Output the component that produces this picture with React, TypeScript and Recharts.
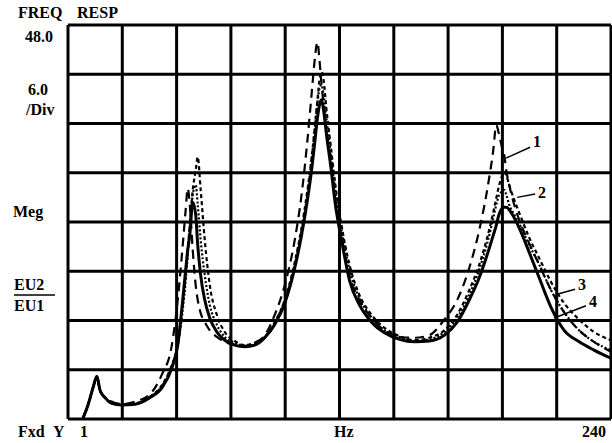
import { LineChart, Line, XAxis, YAxis, CartesianGrid, ReferenceLine } from "recharts"

// frequency (Hz) of each sample
const freqHz = [
  7.6, 9.8, 12, 13.7, 15.1, 17.3, 20.3, 24.7, 30.4, 37, 42.3, 46.7, 49.3, 51.5, 52.8, 53.7, 54.6, 55.9,
  57.2, 58.1, 59.4, 61.2, 63.4, 66.5, 70, 74.4, 78.8, 83.2, 87.6, 92, 96.4, 100.8, 103.8, 106.4, 108.2,
  109.5, 110.8, 111.7, 112.6, 113.5, 114.8, 116.6, 118.7, 121.4, 124.9, 129.3, 134.6, 140.3, 146.9, 153.5,
  160, 166.6, 172.3, 177.6, 182, 185.5, 188.2, 189.5, 190.8, 192.1, 193, 193.9, 195.2, 197.4, 200.5, 204,
  208.4, 213.6, 219.4, 226, 232.5, 240,
]

// magnitude (dB) of the four curves
const curve1 = [
  0.1, 1.7, 3.8, 5.2, 3.5, 2.6, 2.1, 1.8, 2.1, 3.0, 5.4, 9.0, 14.5, 21.2, 25.5, 28.1, 26.1, 20.6, 16.3,
  14.5, 12.9, 11.8, 10.8, 10.0, 9.4, 9.0, 8.9, 9.3, 10.2, 12.7, 16.3, 21.8, 27.3, 34.0, 39.5, 43.5, 45.9,
  43.7, 40.7, 38.3, 35.2, 31.6, 26.7, 22.2, 17.5, 14.5, 12.3, 10.8, 10.0, 9.9, 10.2, 12.1, 14.5, 18.4,
  23.0, 27.9, 32.8, 35.8, 34.6, 33.0, 32.2, 30.3, 28.5, 26.1, 23.6, 21.4, 18.8, 15.7, 13.0, 10.8, 9.4, 8.2,
]
const curve2 = [
  0.1, 1.7, 3.8, 5.0, 3.5, 2.6, 2.1, 1.8, 1.9, 2.7, 4.1, 6.6, 9.0, 13.9, 17.5, 20.6, 23.6, 27.9, 30.3,
  31.9, 27.9, 21.8, 16.3, 12.7, 10.6, 9.5, 9.0, 9.3, 10.0, 11.8, 14.5, 19.1, 23.3, 27.9, 31.8, 35.2, 38.9,
  41.3, 42.3, 41.3, 37.6, 33.4, 28.5, 23.6, 18.8, 15.1, 12.7, 11.1, 10.1, 9.6, 9.9, 10.8, 12.7, 15.7, 18.8,
  22.1, 25.2, 26.9, 28.5, 29.6, 30.1, 29.7, 28.5, 26.7, 24.5, 22.1, 19.6, 16.7, 14.1, 12.1, 10.6, 9.6,
]
const curve3 = [
  0.1, 1.7, 3.8, 5.0, 3.5, 2.6, 1.9, 1.7, 1.8, 2.7, 4.0, 6.5, 9.0, 13.3, 16.9, 20.0, 23.6, 27.3, 28.5,
  26.1, 21.8, 17.5, 13.9, 11.5, 10.0, 9.3, 8.9, 9.1, 10.0, 11.7, 14.5, 18.8, 23.0, 27.5, 31.6, 35.0, 38.5,
  40.3, 40.7, 39.5, 36.4, 32.5, 27.7, 23.0, 18.2, 14.7, 12.4, 10.8, 10.0, 9.5, 9.7, 10.6, 12.3, 15.1, 18.2,
  21.4, 24.5, 26.1, 27.3, 27.7, 27.9, 27.3, 26.1, 24.9, 23.3, 21.2, 18.8, 15.7, 13.0, 10.8, 9.4, 8.4,
]
const curve4 = [
  0.1, 1.7, 3.8, 5.2, 3.5, 2.6, 1.9, 1.7, 1.8, 2.6, 3.8, 6.2, 9.0, 14.5, 18.2, 20.6, 22.4, 26.4, 24.9,
  21.2, 17.5, 14.5, 12.3, 10.6, 9.6, 9.0, 8.8, 9.0, 9.9, 11.5, 14.1, 18.4, 22.4, 26.7, 30.3, 33.4, 36.7,
  38.3, 38.9, 37.6, 34.6, 30.9, 26.1, 21.8, 16.9, 13.9, 11.8, 10.5, 9.7, 9.4, 9.5, 10.2, 11.8, 14.5, 17.2,
  20.0, 22.4, 23.6, 25.0, 25.7, 25.8, 25.8, 25.5, 24.5, 22.7, 20.3, 17.2, 13.6, 10.8, 9.4, 8.4, 7.4,
]

// grid divisions: 10 across 1..240 Hz, 8 of 6 dB
const xTicks = [1, 24.9, 48.8, 72.7, 96.6, 120.5, 144.4, 168.3, 192.2, 216.1, 240]
const yTicks = [0, 6, 12, 18, 24, 30, 36, 42, 48]

// curve callouts: arrow start and end, in Hz / dB
const callouts = [
  { label: "1", from: { x: 204.4, y: 33.1 }, to: { x: 193.9, y: 31.8 } },
  { label: "2", from: { x: 206.6, y: 27.4 }, to: { x: 198.7, y: 27.0 } },
  { label: "3", from: { x: 224.2, y: 15.8 }, to: { x: 216.3, y: 15.2 } },
  { label: "4", from: { x: 229.0, y: 13.8 }, to: { x: 215.0, y: 12.3 } },
]

const data = freqHz.map((f, i) => ({ f, c1: curve1[i], c2: curve2[i], c3: curve3[i], c4: curve4[i] }))

const font = { fontFamily: "'Liberation Serif', 'Times New Roman', serif", fontWeight: "bold" as const, fontSize: 16 }

export default function App() {
  return (
    <div style={{ position: "absolute", left: 0, top: 0, width: 612, height: 443, background: "#fff" }}>
      <LineChart width={612} height={443} data={data} margin={{ top: 25, right: 1, left: 68, bottom: 24 }}>
        <CartesianGrid stroke="#000" strokeWidth={3} horizontal vertical />
        <XAxis type="number" dataKey="f" domain={[1, 240]} ticks={xTicks} hide />
        <YAxis type="number" domain={[0, 48]} ticks={yTicks} hide />
        <Line dataKey="c1" type="monotone" stroke="#000" strokeWidth={2.2} strokeDasharray="9 6" dot={false} isAnimationActive={false} />
        <Line dataKey="c2" type="monotone" stroke="#000" strokeWidth={2.2} strokeDasharray="4 3" dot={false} isAnimationActive={false} />
        <Line dataKey="c3" type="monotone" stroke="#000" strokeWidth={2.2} strokeDasharray="2 2" dot={false} isAnimationActive={false} />
        <Line dataKey="c4" type="monotone" stroke="#000" strokeWidth={3} dot={false} isAnimationActive={false} />
        {callouts.map((c) => (
          <ReferenceLine key={c.label} segment={[c.from, c.to]} stroke="#000" strokeWidth={1.5} ifOverflow="visible" />
        ))}
      </LineChart>
      <svg width={612} height={443} style={{ position: "absolute", left: 0, top: 0, pointerEvents: "none" }}>
        <g {...font} fill="#000">
          <text x={18} y={18}>FREQ</text>
          <text x={77} y={18}>RESP</text>
          <text x={25} y={42}>48.0</text>
          <text x={28} y={95}>6.0</text>
          <text x={26} y={115}>/Div</text>
          <text x={13} y={217}>Meg</text>
          <text x={14} y={290}>EU2</text>
          <line x1={14} y1={295} x2={55} y2={295} stroke="#000" strokeWidth={1.5} />
          <text x={14} y={311}>EU1</text>
          <text x={18} y={437}>Fxd</text>
          <text x={53} y={437}>Y</text>
          <text x={80} y={437}>1</text>
          <text x={334} y={437}>Hz</text>
          <text x={582} y={437}>240</text>
          <text x={533} y={147}>1</text>
          <text x={538} y={198}>2</text>
          <text x={578} y={290}>3</text>
          <text x={589} y={307}>4</text>
        </g>
      </svg>
    </div>
  )
}
